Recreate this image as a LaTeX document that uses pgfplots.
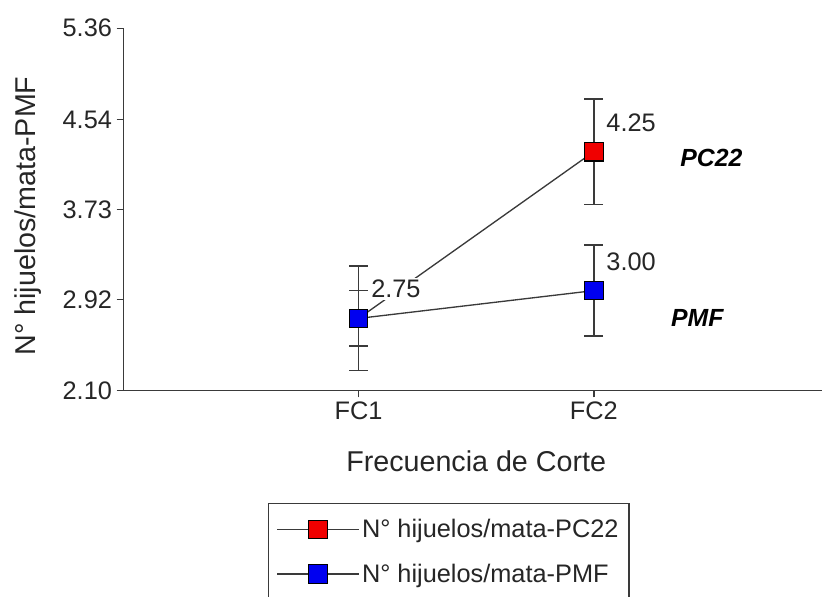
\documentclass[border=0pt]{standalone}
\usepackage{fontspec}
\setmainfont{Liberation Sans}
\usepackage{pgfplots}
\pgfplotsset{compat=1.18}
\definecolor{axisgray}{HTML}{3A3A3A}
\definecolor{txtgray}{HTML}{262626}
\definecolor{mred}{HTML}{F00000}
\definecolor{mblue}{HTML}{0000F0}
\begin{document}
\begin{tikzpicture}
\begin{axis}[
  name=ax,
  scale only axis, width=524pt, height=271.8pt,
  xmin=0, xmax=2.97, ymin=2.10, ymax=5.36,
  axis x line=bottom, axis y line=left,
  axis line style={-, axisgray, line width=1.1pt},
  xtick={1,2}, xticklabels={FC1,FC2},
  ytick={2.10,2.92,3.73,4.54,5.36},
  yticklabels={2.10,2.92,3.73,4.54,5.36},
  tick align=outside, major tick length=5pt,
  tick style={axisgray, line width=1.1pt},
  ticklabel style={font=\fontsize{19}{22}\selectfont, text=txtgray},
  xlabel={Frecuencia de Corte},
  ylabel={N° hijuelos/mata-PMF},
  label style={font=\fontsize{21.5}{25}\selectfont, text=txtgray},
  xlabel style={at={(axis description cs:0.505,-0.194)}, anchor=center},
  ylabel style={at={(axis description cs:-0.137,0.482)}, anchor=center},
  clip=false,
  legend style={
    at={(axis description cs:0.207,-0.309)}, anchor=north west,
    draw=axisgray, line width=1.1pt,
    font=\fontsize{19}{22}\selectfont, text=txtgray,
    row sep=14pt, inner xsep=6pt, inner ysep=10pt,
    every even column/.style={text width=213pt},
  },
  legend cell align=left,
  legend image code/.code={%
    \draw[mark repeat=2, mark phase=2, #1, line width=1pt]
      plot coordinates {(0pt,0pt) (30.5pt,0pt) (61pt,0pt)};},
  nodes near coords style={anchor=center, xshift=28pt, yshift=22pt,
    font=\fontsize{19}{22}\selectfont, text=txtgray},
]
% PC22 series
\addplot[axisgray, line width=1pt, mark=square*, mark size=7pt,
  mark options={fill=mred, draw=black, line width=0.8pt},
  error bars/.cd, y dir=both, y explicit, error mark=-,
  error bar style={axisgray, line width=1.2pt},
  error mark options={rotate=90, draw=axisgray, line width=1.2pt, mark size=7pt}]
  coordinates {(1,2.75) +- (0,0.47) (2,4.25) +- (0,0.475)};
\addlegendentry{N° hijuelos/mata-PC22}
% PMF series
\addplot[axisgray, line width=1pt, mark=square*, mark size=7pt,
  mark options={fill=mblue, draw=black, line width=0.8pt},
  error bars/.cd, y dir=both, y explicit, error mark=-,
  error bar style={axisgray, line width=1.2pt},
  error mark options={rotate=90, draw=axisgray, line width=1.2pt, mark size=7pt}]
  coordinates {(1,2.75) +- (0,0.25) (2,3.00) +- (0,0.41)};
\addlegendentry{N° hijuelos/mata-PMF}
% value labels
\addplot[only marks, mark=none, nodes near coords, point meta=explicit symbolic,
  nodes near coords style={fill=white, inner sep=1.5pt}, forget plot]
  coordinates {(1,2.75) [2.75] (2,3.00) [3.00] (2,4.25) [4.25]};
\node[font=\fontsize{18.6}{22}\selectfont\bfseries\itshape, text=black]
  at (axis cs:2.50,4.19) {PC22};
\node[font=\fontsize{18.6}{22}\selectfont\bfseries\itshape, text=black]
  at (axis cs:2.44,2.753) {PMF};
\end{axis}
\pgfresetboundingbox
\path[use as bounding box] ([shift={(-92.5pt,-154.7pt)}]ax.south west)
  rectangle ([shift={(0pt,21.2pt)}]ax.north east);
\end{tikzpicture}
\end{document}
